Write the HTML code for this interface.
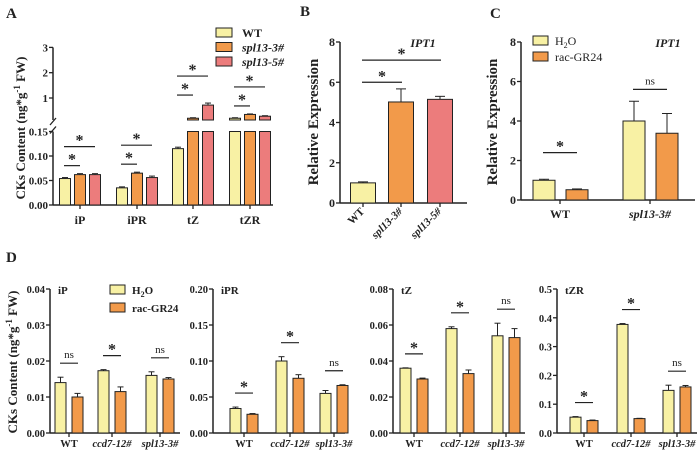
<!DOCTYPE html>
<html><head><meta charset="utf-8"><style>
html,body{margin:0;padding:0;background:#fff;}
svg{display:block;font-family:"Liberation Serif",serif;}
</style></head><body>
<svg id="fig" width="700" height="455" viewBox="0 0 700 455" xmlns="http://www.w3.org/2000/svg"></svg>
<script>
// ---------- DATA ----------
const aCategories = ["iP","iPR","tZ","tZR"];
const aSeries = ["WT","spl13-3#","spl13-5#"];
const aWT = [0.054,0.035,0.115,0.2];
const aSp3 = [0.062,0.065,0.2,0.35];
const aSp5 = [0.062,0.056,0.72,0.28];
const aErrWT = [0.002,0.002,0.003,0.02];
const aErrSp3 = [0.002,0.002,0.02,0.02];
const aErrSp5 = [0.002,0.003,0.08,0.02];
const aLowTicks = [0,0.05,0.10,0.15];
const aLowTickLabels = ["0.00","0.05","0.10","0.15"];
const aHighTicks = [1,2,3];

const bCategories = ["WT","spl13-3#","spl13-5#"];
const bValues = [1.0,5.02,5.15];
const bErr = [0.05,0.65,0.15];
const bTicks = [0,2,4,6,8];

const cCategories = ["WT","spl13-3#"];
const cH2O = [1.0,4.0];
const cGR = [0.52,3.38];
const cErrH2O = [0.05,1.0];
const cErrGR = [0.04,1.0];
const cTicks = [0,2,4,6,8];

const dGroups = ["WT","ccd7-12#","spl13-3#"];
const dTitles = ["iP","iPR","tZ","tZR"];
const dH2O = [[0.014,0.0173,0.016],[0.034,0.100,0.055],[0.036,0.058,0.054],[0.055,0.377,0.148]];
const dGR = [[0.010,0.0115,0.015],[0.026,0.076,0.066],[0.030,0.033,0.053],[0.043,0.050,0.160]];
const dErrH2O = [[0.0015,0.0003,0.001],[0.002,0.006,0.004],[0.0002,0.001,0.007],[0.002,0.003,0.018]];
const dErrGR = [[0.001,0.0013,0.0004],[0.001,0.005,0.001],[0.0005,0.002,0.005],[0.002,0.001,0.005]];
const dSig = [["ns","*","ns"],["*","*","ns"],["*","*","ns"],["*","*","ns"]];
const dMax = [0.04,0.20,0.08,0.5];
const dTickLabels = [["0.00","0.01","0.02","0.03","0.04"],["0.00","0.05","0.10","0.15","0.20"],["0.00","0.02","0.04","0.06","0.08"],["0.0","0.1","0.2","0.3","0.4","0.5"]];

// ---------- HELPERS ----------
const NS="http://www.w3.org/2000/svg";
const svg=document.getElementById('fig');
const YEL="#f8f1a4", ORA="#f29a4a", PNK="#ec7c7c", INK="#222";
function mk(tag,attrs,parent){const e=document.createElementNS(NS,tag);for(const k in attrs)e.setAttribute(k,attrs[k]);(parent||svg).appendChild(e);return e;}
function txt(s,x,y,size,opts,parent){const t=mk('text',Object.assign({x:x,y:y,'font-size':size,'font-weight':'bold',fill:INK},opts||{}),parent);t.textContent=s;return t;}
function bar(x,w,yTop,yBase,fill,name){const r=mk('rect',{x:x,y:yTop,width:w,height:Math.max(0,yBase-yTop),fill:fill,stroke:INK,'stroke-width':1});

return r;}
function err(cx,yV,yE,half){mk('line',{x1:cx,y1:yV,x2:cx,y2:yE,stroke:INK,'stroke-width':1});mk('line',{x1:cx-half,y1:yE,x2:cx+half,y2:yE,stroke:INK,'stroke-width':1});}
function sig(x1,x2,y,label,size){const l=mk('line',{x1:x1,y1:y,x2:x2,y2:y,stroke:INK,'stroke-width':1.2});


const t=txt(label,(x1+x2)/2,label==='*'?y-1:y-5,label==='*'?16:11,{'text-anchor':'middle','font-weight':label==='*'?'bold':'normal'});

}
function yTick(ax,y,label,size){mk('line',{x1:ax-4,y1:y,x2:ax,y2:y,stroke:INK,'stroke-width':1.3});const t=txt(label,ax-5,y+4,size||11,{'text-anchor':'end'});

}

// ---------- PANEL A ----------
(function(){
  const ax=53, x1=273, base=205;
  const low=v=>base-v/0.05*24.5;
  const high=v=>123.3-25.3*v;
  const brkLow=low(0.15), brkHigh=120;
  txt("A",6,18,15);
  mk('line',{x1:ax,y1:base,x2:x1,y2:base,stroke:INK,'stroke-width':1.5});
  mk('line',{x1:ax,y1:base,x2:ax,y2:brkLow,stroke:INK,'stroke-width':1.5});
  mk('line',{x1:ax,y1:brkHigh,x2:ax,y2:high(3),stroke:INK,'stroke-width':1.5});
  mk('line',{x1:ax-3,y1:brkLow+2,x2:ax+3,y2:brkLow-5,stroke:INK,'stroke-width':1.3});
  mk('line',{x1:ax-3,y1:brkHigh+5,x2:ax+3,y2:brkHigh-2,stroke:INK,'stroke-width':1.3});
  aLowTicks.forEach((v,i)=>yTick(ax,low(v),aLowTickLabels[i],11));
  aHighTicks.forEach(v=>yTick(ax,high(v),String(v),11));
  const t=txt("CKs Content (ng*g",0,0,13,{transform:"translate(25,128) rotate(-90)",'text-anchor':'middle'});
  
  const s1=mk('tspan',{'font-size':9,dy:-5},t);s1.textContent="-1";
  const s2=mk('tspan',{dy:5},t);s2.textContent=" FW)";
  const centers=[80,137,193,250], cols=[YEL,ORA,PNK];
  const vals=[aWT,aSp3,aSp5], errs=[aErrWT,aErrSp3,aErrSp5];
  aCategories.forEach((c,i)=>{
    const cx=centers[i];
    mk('line',{x1:cx,y1:base,x2:cx,y2:base+4,stroke:INK,'stroke-width':1.3});
    const l=txt(c,cx,224,12,{'text-anchor':'middle'});
    
    let tops=[];
    vals.forEach((arr,j)=>{
      const bx=cx+(j-1)*15, v=arr[i], e=errs[j][i];
      if(v<=0.15){bar(bx-5.5,11,low(v),base,cols[j],'bar-'+c+'-'+aSeries[j]);err(bx,low(v),low(v+e),3);tops.push(low(v+e));}
      else{bar(bx-5.5,11,brkLow,base,cols[j],'bar-'+c+'-'+aSeries[j]+'-low');
        bar(bx-5.5,11,Math.min(high(v),brkHigh-1),brkHigh,cols[j],'bar-'+c+'-'+aSeries[j]+'-high');
        err(bx,Math.min(high(v),brkHigh-1),Math.min(high(v+e),brkHigh-2),3);tops.push(Math.min(high(v+e),brkHigh-2));}
    });
    const top=Math.min(...tops);
    const shortY=top-8;
    sig(cx-16,cx,shortY,'*');
    sig(cx-16,cx+15,shortY-19,'*');
  });
  const lg=[["WT",false],["spl13-3#",true],["spl13-5#",true]];
  lg.forEach((d,j)=>{
    const y=33+j*14.5;
    const r=mk('rect',{x:216,y:y-5,width:16,height:9,fill:cols[j],stroke:INK,'stroke-width':1});
    
    const tt=txt(d[0],242,y+4,12,d[1]?{'font-style':'italic'}:{});
    
  });
})();

// ---------- PANEL B ----------
(function(){
  const ax=340, x1=467, base=203, top=42;
  const y=v=>base-(v/8)*(base-top);
  txt("B",300,16,15);
  mk('line',{x1:ax,y1:base,x2:x1,y2:base,stroke:INK,'stroke-width':1.5});
  mk('line',{x1:ax,y1:base,x2:ax,y2:top,stroke:INK,'stroke-width':1.5});
  bTicks.forEach(v=>yTick(ax,y(v),String(v),12));
  const t=txt("Relative Expression",0,0,15,{transform:"translate(318,122) rotate(-90)",'text-anchor':'middle'});
  
  const centers=[363,401,440], cols=[YEL,ORA,PNK];
  bCategories.forEach((c,i)=>{
    const cx=centers[i];
    bar(cx-12.5,25,y(bValues[i]),base,cols[i],'bar-'+c);
    err(cx,y(bValues[i]),y(bValues[i]+bErr[i]),5);
    mk('line',{x1:cx,y1:base,x2:cx,y2:base+4,stroke:INK,'stroke-width':1.3});
    const l=txt(c,cx+2,212,11,{'text-anchor':'end',transform:`rotate(-45 ${cx+2} 212)`,'font-style':i?'italic':'normal'});
    
  });
  sig(362,402,y(6),'*');
  sig(362,441,y(7.1),'*');
  const g=txt("IPT1",423,47,12,{'font-style':'italic','text-anchor':'middle'});
  
})();

// ---------- PANEL C ----------
(function(){
  const ax=521, x1=695, base=200, top=42;
  const y=v=>base-(v/8)*(base-top);
  txt("C",490,18,15);
  mk('line',{x1:ax,y1:base,x2:x1,y2:base,stroke:INK,'stroke-width':1.5});
  mk('line',{x1:ax,y1:base,x2:ax,y2:top,stroke:INK,'stroke-width':1.5});
  cTicks.forEach(v=>yTick(ax,y(v),String(v),12));
  const t=txt("Relative Expression",0,0,15,{transform:"translate(497,122) rotate(-90)",'text-anchor':'middle'});
  
  const centers=[560,650];
  cCategories.forEach((c,i)=>{
    const cx=centers[i];
    bar(cx-27,22,y(cH2O[i]),base,YEL,'bar-'+c+'-H2O');
    err(cx-16,y(cH2O[i]),y(cH2O[i]+cErrH2O[i]),5);
    bar(cx+6,22,y(cGR[i]),base,ORA,'bar-'+c+'-GR24');
    err(cx+17,y(cGR[i]),y(cGR[i]+cErrGR[i]),5);
    mk('line',{x1:cx,y1:base,x2:cx,y2:base+4,stroke:INK,'stroke-width':1.3});
    const l=txt(c,cx,218,12,{'text-anchor':'middle','font-style':i?'italic':'normal'});
    
  });
  sig(543,577,y(2.4),'*');
  sig(633,667,y(5.6),'ns',12);
  const lg=[["H",YEL],["rac-GR24",ORA]];
  lg.forEach((d,j)=>{
    const yy=41+j*16;
    const r=mk('rect',{x:533,y:yy-5,width:15,height:9,fill:d[1],stroke:INK,'stroke-width':1});
    
    const tt=txt(j?d[0]:"",555,yy+4,12,{'font-weight':'normal'});
    
    if(!j){const a=mk('tspan',{},tt);a.textContent="H";const b=mk('tspan',{'font-size':8,dy:3},tt);b.textContent="2";const cc=mk('tspan',{dy:-3},tt);cc.textContent="O";}
  });
  const g=txt("IPT1",668,47,12,{'font-style':'italic','text-anchor':'middle'});
  
})();

// ---------- PANEL D ----------
(function(){
  txt("D",6,262,15);
  const t=txt("CKs Content (ng*g",0,0,13,{transform:"translate(17,362) rotate(-90)",'text-anchor':'middle'});
  
  const s1=mk('tspan',{'font-size':9,dy:-5},t);s1.textContent="-1";
  const s2=mk('tspan',{dy:5},t);s2.textContent=" FW)";
  const axes=[50,213,393,557], ends=[180,345,525,697];
  const centers=[[69,112,160],[244,290,334],[414,460,506],[584,631,677]];
  const base=433, top=289;
  dTitles.forEach((ttl,p)=>{
    const ax=axes[p];
    const y=v=>base-(v/dMax[p])*(base-top);
    const g=mk('g',{});
    
    mk('line',{x1:ax,y1:base,x2:ends[p],y2:base,stroke:INK,'stroke-width':1.5},g);
    mk('line',{x1:ax,y1:base,x2:ax,y2:top,stroke:INK,'stroke-width':1.5},g);
    const labs=dTickLabels[p], n=labs.length-1;
    labs.forEach((lb,k)=>yTick(ax,y(dMax[p]*k/n),lb,10.5));
    const tt=txt(ttl,ax+8,294,11,{});
    
    dGroups.forEach((gname,i)=>{
      const cx=centers[p][i];
      const h=dH2O[p][i], r=dGR[p][i];
      bar(cx-14,11,y(h),base,YEL,'bar-'+ttl+'-'+gname+'-H2O');
      err(cx-8.5,y(h),y(h+dErrH2O[p][i]),3);
      bar(cx+3,11,y(r),base,ORA,'bar-'+ttl+'-'+gname+'-GR24');
      err(cx+8.5,y(r),y(r+dErrGR[p][i]),3);
      mk('line',{x1:cx,y1:base,x2:cx,y2:base+4,stroke:INK,'stroke-width':1.3});
      const l=txt(gname,cx,447,10.5,{'text-anchor':'middle','font-style':i?'italic':'normal'});
      
      const topY=Math.min(y(h+dErrH2O[p][i]),y(r+dErrGR[p][i]));
      sig(cx-9,cx+9,topY-14,dSig[p][i]);
    });
  });
  const lg=[["H",YEL],["rac-GR24",ORA]];
  lg.forEach((d,j)=>{
    const yy=290+j*18;
    const r=mk('rect',{x:110,y:yy-5,width:15,height:9,fill:d[1],stroke:INK,'stroke-width':1});
    
    const tt=txt(j?d[0]:"",132,yy+4,11,{});
    
    if(!j){const a=mk('tspan',{},tt);a.textContent="H";const b=mk('tspan',{'font-size':8,dy:3},tt);b.textContent="2";const cc=mk('tspan',{dy:-3},tt);cc.textContent="O";}
  });
})();
</script>
</body></html>
